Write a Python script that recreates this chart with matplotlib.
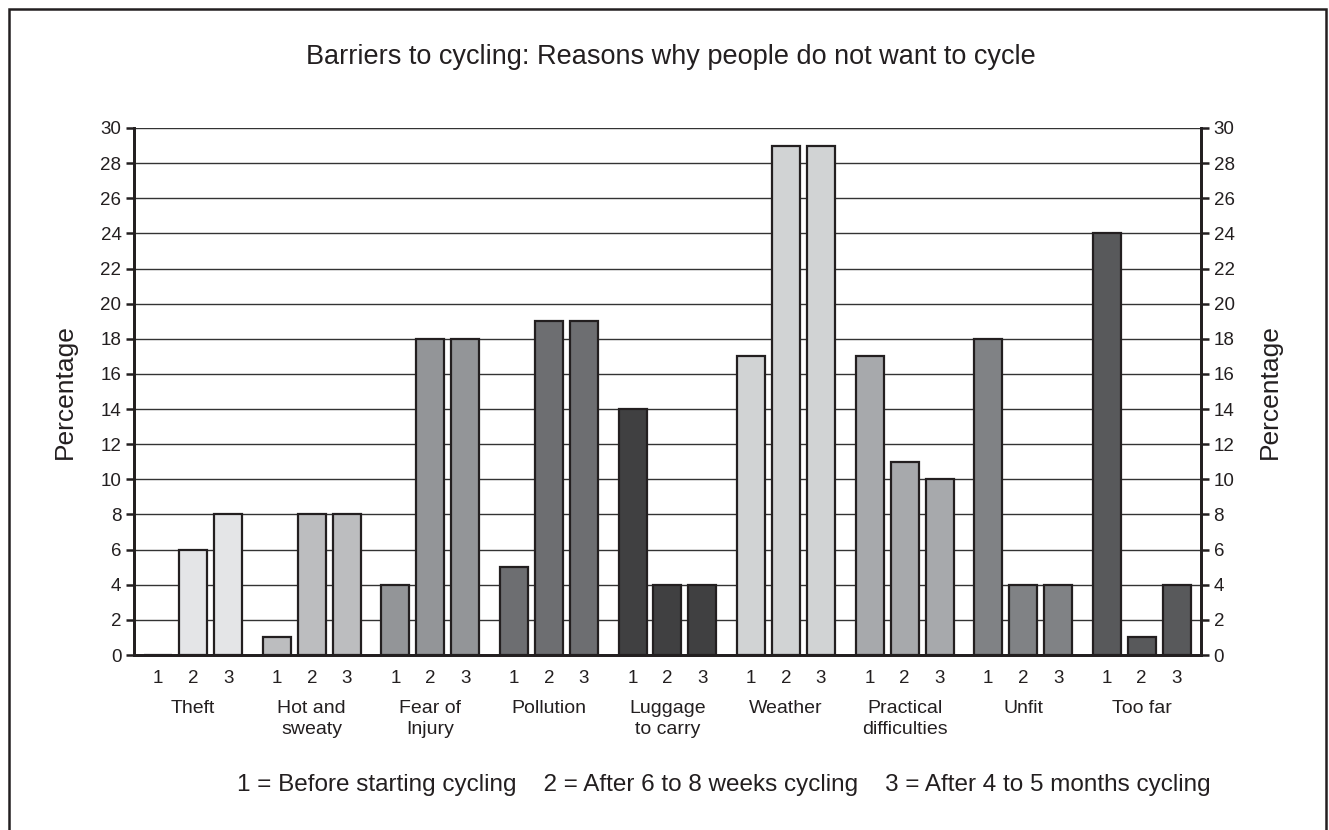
import numpy as np
import matplotlib.pyplot as plt
from matplotlib.patches import Rectangle
from matplotlib.transforms import blended_transform_factory

plt.rcParams['font.family'] = ['Liberation Sans', 'DejaVu Sans']

categories = ["Theft", "Hot and\nsweaty", "Fear of\nInjury", "Pollution", "Luggage\nto carry",
              "Weather", "Practical\ndifficulties", "Unfit", "Too far"]
before = [0, 1, 4, 5, 14, 17, 17, 18, 24]
weeks_6_8 = [6, 8, 18, 19, 4, 29, 11, 4, 1]
months_4_5 = [8, 8, 18, 19, 4, 29, 10, 4, 4]
group_colors = ["#e4e5e7", "#bcbdbf", "#939598", "#6d6e71", "#404041",
                "#d1d3d4", "#a7a9ac", "#808285", "#58595b"]
sub_labels = ["1", "2", "3"]
legend_text = "1 = Before starting cycling    2 = After 6 to 8 weeks cycling    3 = After 4 to 5 months cycling"

fig = plt.figure(figsize=(13.29, 8.30), dpi=100)
ax = fig.add_axes([0.1008, 0.2108, 0.8029, 0.635])

x = np.arange(len(categories))
offset = 0.295
width = 0.236
series = [before, weeks_6_8, months_4_5]
tick_pos = []
tick_lab = []
for k, vals in enumerate(series):
    pos = x + (k - 1) * offset
    ax.bar(pos, vals, width, color=group_colors, edgecolor="#231f20", linewidth=1.6, zorder=3)
    tick_pos.extend(pos)
    tick_lab.extend([sub_labels[k]] * len(x))

ax.set_xlim(-0.5, len(categories) - 0.5)
ax.set_ylim(0, 30)
ax.set_yticks(range(0, 31, 2))
ax.set_xticks(tick_pos)
ax.set_xticklabels(tick_lab)
ax.tick_params(axis="x", length=0, pad=11, labelsize=13.5, colors="#231f20")
ax.tick_params(axis="y", length=6, width=1.8, labelsize=13.5, colors="#231f20", pad=3)
ax.yaxis.grid(True, color="#333333", linewidth=1.0, zorder=0)
ax.set_axisbelow(True)
ax.spines["top"].set_visible(False)
for s in ["left", "right", "bottom"]:
    ax.spines[s].set_linewidth(2.0)
    ax.spines[s].set_color("#231f20")

ax2 = ax.twinx()
ax2.set_ylim(0, 30)
ax2.set_yticks(range(0, 31, 2))
ax2.tick_params(axis="y", length=6, width=1.8, labelsize=13.5, colors="#231f20", pad=3)
ax2.spines["top"].set_visible(False)
for s in ["left", "right", "bottom"]:
    ax2.spines[s].set_linewidth(2.0)
    ax2.spines[s].set_color("#231f20")

ax.set_ylabel("Percentage", fontsize=19, color="#231f20", labelpad=17)
ax2.set_ylabel("Percentage", fontsize=19, color="#231f20", labelpad=17)

trans = blended_transform_factory(ax.transData, ax.transAxes)
for i, c in enumerate(categories):
    ax.text(x[i], -0.086, c, transform=trans, ha="center", va="top",
            fontsize=14, color="#231f20", linespacing=1.3)

fig.text(0.505, 0.931, "Barriers to cycling: Reasons why people do not want to cycle",
         ha="center", va="center", fontsize=19.5, color="#231f20")
fig.text(0.545, 0.054, legend_text, ha="center", va="center", fontsize=17.5, color="#231f20")

fig.patches.append(Rectangle((0.0065, -0.05), 0.9915, 1.039, transform=fig.transFigure,
                             fill=False, edgecolor="#231f20", linewidth=1.8))

fig.savefig("out.png", dpi=100)
